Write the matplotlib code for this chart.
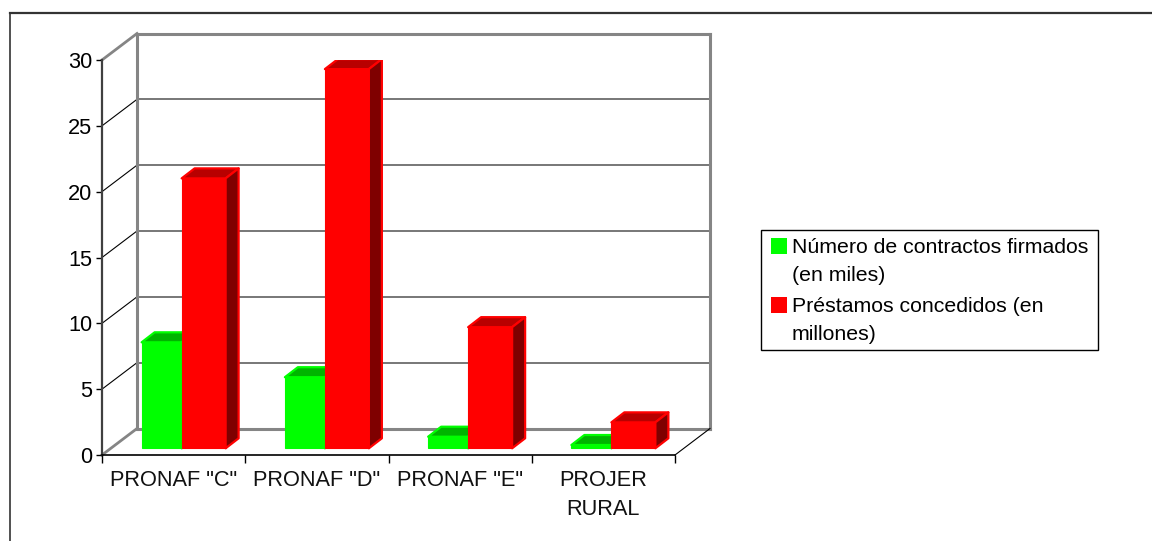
import matplotlib
matplotlib.use('Agg')
import matplotlib.pyplot as plt
from matplotlib.patches import Polygon, Rectangle
from matplotlib.lines import Line2D

plt.rcParams['font.family'] = ['Liberation Sans', 'DejaVu Sans']

categories = ['PRONAF "C"', 'PRONAF "D"', 'PRONAF "E"', 'PROJER\nRURAL']
contratos = [8.05, 5.4, 0.88, 0.25]
prestamos = [20.5, 28.8, 9.2, 1.97]
legend_labels = ['Número de contractos firmados\n(en miles)',
                 'Préstamos concedidos (en\nmillones)']
y_ticks = [0, 5, 10, 15, 20, 25, 30]

W, H = 1152, 541
fig = plt.figure(figsize=(W / 100, H / 100), dpi=100)

# front plane of the fake 3D box, in pixels
left, right, top, bottom = 102, 675, 60, 455
ax = fig.add_axes([left / W, 1 - bottom / H, (right - left) / W, (bottom - top) / H])
ax.set_xlim(0, 4)
ax.set_ylim(0, 30)
ax.patch.set_alpha(0)

px_x = 4 / (right - left)
px_y = 30 / (bottom - top)

# box depth and bar depth, in data units
box_dx, box_dy = 35 * px_x, 26.5 * px_y
bar_dx, bar_dy = 13 * px_x, 10 * px_y
shift_x, shift_y = 10 * px_x, 6.7 * px_y
green_w = 40 * px_x
red_w = 44 * px_x

GREY = '#858585'

# back wall and floor
for v in y_ticks[1:-1]:
    ax.plot([box_dx, 4 + box_dx], [v + box_dy] * 2, color='#606060', lw=1.2, clip_on=False, zorder=1)
    ax.plot([0, box_dx], [v, v + box_dy], color='black', lw=0.8, clip_on=False, zorder=1)
ax.plot([box_dx, box_dx], [box_dy, 30 + box_dy], color=GREY, lw=2.2, clip_on=False, zorder=1)
ax.plot([4 + box_dx, 4 + box_dx], [box_dy, 30 + box_dy], color=GREY, lw=2.2, clip_on=False, zorder=1)
ax.plot([box_dx, 4 + box_dx], [30 + box_dy] * 2, color=GREY, lw=2.2, clip_on=False, zorder=1)
ax.plot([box_dx, 4 + box_dx], [box_dy] * 2, color=GREY, lw=2.2, clip_on=False, zorder=1)
ax.plot([0, box_dx], [30, 30 + box_dy], color=GREY, lw=2, clip_on=False, zorder=1)
ax.plot([0, box_dx], [0, box_dy], color=GREY, lw=2, clip_on=False, zorder=1)
ax.plot([4, 4 + box_dx], [0, box_dy], color='black', lw=0.8, clip_on=False, zorder=1)


def draw_bar(x, v, w, front, top_c, side_c, z):
    y0 = shift_y
    y1 = shift_y + v
    x1 = x + w
    ax.bar(x, v, w, bottom=y0, align='edge', color=front, edgecolor=front, lw=0.8, zorder=z)
    ax.add_patch(Polygon([(x, y1), (x + bar_dx, y1 + bar_dy), (x1 + bar_dx, y1 + bar_dy), (x1, y1)],
                         facecolor=top_c, edgecolor=front, lw=1.6, joinstyle='round', zorder=z))
    ax.add_patch(Polygon([(x1, y0), (x1 + bar_dx, y0 + bar_dy), (x1 + bar_dx, y1 + bar_dy), (x1, y1)],
                         facecolor=side_c, edgecolor=front, lw=1.6, joinstyle='round', zorder=z))


for i in range(len(categories)):
    split = i + 0.5 + shift_x - 2 * px_x
    draw_bar(split - green_w, contratos[i], green_w, '#00FF00', '#00B400', '#007F00', 3 + i)
    draw_bar(split, prestamos[i], red_w, '#FF0000', '#B80000', '#7F0000', 3 + i + 0.5)

# axes
for name in ['top', 'right']:
    ax.spines[name].set_visible(False)
ax.spines['left'].set_color('#404040')
ax.spines['left'].set_linewidth(1.6)
ax.spines['bottom'].set_color('black')
ax.spines['bottom'].set_linewidth(1.2)
ax.set_yticks(y_ticks)
ax.set_xticks(range(5))
ax.set_xticklabels([])
ax.tick_params(axis='y', labelsize=15.7, length=4, width=1, pad=3)
ax.tick_params(axis='x', length=6, width=1)
for i, name in enumerate(categories):
    ax.text(i + 0.5, -1.15, name, ha='center', va='top', fontsize=15.7, linespacing=1.5, color='#111111')


def fig_rect(x0, y0, x1, y1, **kw):
    fig.add_artist(Rectangle((x0 / W, 1 - y1 / H), (x1 - x0) / W, (y1 - y0) / H,
                             transform=fig.transFigure, **kw))


# outer frame runs along the top and left only, legend on the right
fig.add_artist(Line2D([9.5 / W, 1], [1 - 13 / H] * 2, color='#333333', lw=1.6, transform=fig.transFigure))
fig.add_artist(Line2D([9.5 / W] * 2, [0, 1 - 13 / H], color='#333333', lw=1.2, transform=fig.transFigure))
fig_rect(760.5, 230, 1098, 349.5, facecolor='white', edgecolor='black', lw=1)
fig_rect(771, 238, 787, 254, facecolor='#00FF00', edgecolor='none')
fig_rect(771, 297, 787, 313, facecolor='#FF0000', edgecolor='none')
fig.text(792 / W, 1 - 238 / H, legend_labels[0], fontsize=15.35, va='top', ha='left', linespacing=1.6)
fig.text(792 / W, 1 - 297 / H, legend_labels[1], fontsize=15.35, va='top', ha='left', linespacing=1.6)

fig.savefig('out.png', dpi=100)
